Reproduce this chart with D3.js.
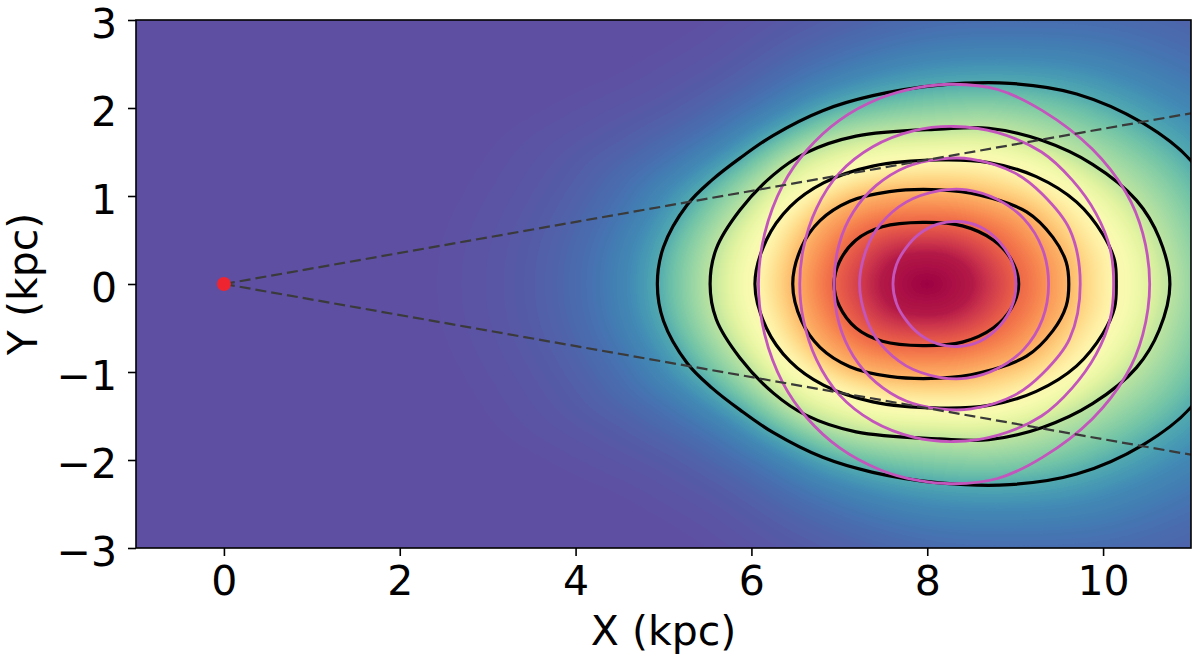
<!DOCTYPE html>
<html>
<head>
<meta charset="utf-8">
<script src="https://cdn.jsdelivr.net/npm/d3@7"></script>
<style>
body { margin: 0; background: #fff; }
svg { display: block; font-family: "DejaVu Sans", sans-serif; }
</style>
</head>
<body>
<svg id="chart" width="1200" height="661"></svg>
<script>
const xTicks = [0, 2, 4, 6, 8, 10];
const yTicks = [-3, -2, -1, 0, 1, 2, 3];

// upper halves of the black contours (kpc), left to right
const blackContours = [
  [[6.94, 0], [7.00, 0.25], [7.19, 0.50], [7.49, 0.65], [7.95, 0.70], [8.40, 0.66], [8.75, 0.50], [8.96, 0.27], [9.04, 0]],
  [[6.47, 0], [6.57, 0.42], [6.78, 0.72], [7.12, 0.94], [7.57, 1.05], [8.14, 1.07], [8.60, 1.01], [9.13, 0.82], [9.43, 0.53], [9.58, 0.25], [9.61, 0]],
  [[6.04, 0], [6.17, 0.50], [6.44, 0.88], [6.82, 1.15], [7.38, 1.34], [8.14, 1.41], [8.70, 1.38], [9.24, 1.22], [9.70, 0.93], [10.00, 0.56], [10.13, 0.27], [10.15, 0]],
  [[5.53, 0], [5.60, 0.40], [5.87, 0.84], [6.25, 1.24], [6.62, 1.49], [7.19, 1.68], [8.14, 1.76], [8.70, 1.77], [9.31, 1.63], [9.88, 1.36], [10.38, 0.95], [10.64, 0.52], [10.76, 0]],
  [[4.93, 0], [5.00, 0.42], [5.27, 0.90], [5.55, 1.18], [5.87, 1.43], [6.25, 1.69], [6.81, 1.97], [7.38, 2.14], [8.14, 2.26], [8.94, 2.28], [9.70, 2.16], [10.45, 1.83], [11.00, 1.40], [11.35, 0.80], [11.48, 0]]
];

// upper halves of the magenta contours
const magentaContours = [
  [[7.61, 0], [7.65, 0.22], [7.75, 0.40], [7.91, 0.57], [8.12, 0.68], [8.35, 0.71], [8.60, 0.65], [8.82, 0.48], [8.96, 0.26], [9.01, 0]],
  [[7.23, 0], [7.31, 0.40], [7.46, 0.67], [7.76, 0.93], [8.14, 1.06], [8.45, 1.07], [8.80, 0.96], [9.10, 0.74], [9.31, 0.40], [9.38, 0]],
  [[6.94, 0], [7.00, 0.46], [7.16, 0.82], [7.42, 1.12], [7.76, 1.33], [8.14, 1.42], [8.50, 1.42], [9.00, 1.26], [9.31, 1.02], [9.62, 0.62], [9.74, 0]],
  [[6.55, 0], [6.59, 0.40], [6.74, 0.86], [7.00, 1.26], [7.38, 1.56], [7.84, 1.74], [8.30, 1.79], [8.80, 1.72], [9.30, 1.50], [9.65, 1.18], [9.92, 0.80], [10.08, 0.40], [10.12, 0]],
  [[6.08, 0], [6.15, 0.57], [6.36, 1.13], [6.63, 1.52], [7.00, 1.86], [7.46, 2.11], [7.88, 2.23], [8.30, 2.27], [8.80, 2.21], [9.31, 1.97], [9.88, 1.53], [10.26, 1.04], [10.45, 0.58], [10.53, 0]]
];

// dashed sight lines from the Sun
const sightLines = [
  [[0, 0], [11, 1.94]],
  [[0, 0], [11, -1.94]]
];
const sun = [0, 0];

// colour map: field level (0 = centre, 1..5 = black contours, beyond = outside) -> Spectral position
const fieldCentre = [8.0, 0];
const levelStops = [0, 0.5, 1, 2, 3, 4, 5, 5.5, 6.2, 7.1, 8.0, 9.4];
const colourStops = [1.0, 0.96, 0.82, 0.68, 0.51, 0.33, 0.16, 0.105, 0.062, 0.03, 0.012, 0];

const svg = d3.select("#chart");

const x = d3.scaleLinear([-1, 11], [136, 1191]);
const y = d3.scaleLinear([-3, 3], [548, 20]);
const plot = { x0: x(-1), x1: x(11), y0: y(3), y1: y(-3) };

svg.append("defs").append("clipPath").attr("id", "plot-clip")
  .append("rect")
  .attr("x", plot.x0).attr("y", plot.y0)
  .attr("width", plot.x1 - plot.x0).attr("height", plot.y1 - plot.y0);

const heatLayer = svg.append("g").attr("clip-path", "url(#plot-clip)");
const lineLayer = svg.append("g").attr("clip-path", "url(#plot-clip)");

const closeShape = half => half.concat(half.slice(1, -1).reverse().map(([a, b]) => [a, -b]));
const contourLine = d3.line()
  .x(d => x(d[0]))
  .y(d => y(d[1]))
  .curve(d3.curveCatmullRomClosed.alpha(0.5));

const blackPaths = lineLayer.selectAll(".black")
  .data(blackContours)
  .enter()
  .append("path")
  .attr("class", "black")
  .attr("d", d => contourLine(closeShape(d)))
  .attr("fill", "none")
  .attr("stroke", "#000")
  .attr("stroke-width", 3.2);

lineLayer.selectAll(".magenta")
  .data(magentaContours)
  .enter()
  .append("path")
  .attr("class", "magenta")
  .attr("d", d => contourLine(closeShape(d)))
  .attr("fill", "none")
  .attr("stroke", "#c455bd")
  .attr("stroke-width", 2.8);

lineLayer.selectAll(".sight")
  .data(sightLines)
  .enter()
  .append("line")
  .attr("x1", d => x(d[0][0])).attr("y1", d => y(d[0][1]))
  .attr("x2", d => x(d[1][0])).attr("y2", d => y(d[1][1]))
  .attr("stroke", "#3a3a3a")
  .attr("stroke-width", 2.2)
  .attr("stroke-dasharray", "11,5");

lineLayer.append("circle")
  .attr("cx", x(sun[0]))
  .attr("cy", y(sun[1]))
  .attr("r", 7)
  .attr("fill", "#ee2530");

// ---- heat map, built from the black contours ----
const cx = x(fieldCentre[0]), cy = y(fieldCentre[1]);
const bins = 1440;

function radiusTable(node) {
  const len = node.getTotalLength();
  const pts = [];
  for (let i = 0; i < 1200; i++) {
    const p = node.getPointAtLength(len * i / 1200);
    pts.push([Math.atan2(p.y - cy, p.x - cx), Math.hypot(p.x - cx, p.y - cy)]);
  }
  pts.sort((a, b) => a[0] - b[0]);
  const first = pts[0], last = pts[pts.length - 1];
  pts.unshift([last[0] - 2 * Math.PI, last[1]]);
  pts.push([first[0] + 2 * Math.PI, first[1]]);
  const f = d3.scaleLinear(pts.map(d => d[0]), pts.map(d => d[1]));
  return d3.range(bins).map(i => f(-Math.PI + 2 * Math.PI * (i + 0.5) / bins));
}

const tables = blackPaths.nodes().map(radiusTable);
const toColour = d3.scaleLinear(levelStops, colourStops).clamp(true);
const lut = d3.range(256).map(i => d3.rgb(d3.interpolateSpectral(1 - i / 255)));

const W = Math.round(plot.x1 - plot.x0), H = Math.round(plot.y1 - plot.y0);
const canvas = document.createElement("canvas");
canvas.width = W; canvas.height = H;
const ctx = canvas.getContext("2d");
const img = ctx.createImageData(W, H);
const n = tables.length;
for (let j = 0; j < H; j++) {
  for (let i = 0; i < W; i++) {
    const dx = plot.x0 + i + 0.5 - cx, dy = plot.y0 + j + 0.5 - cy;
    const r = Math.hypot(dx, dy);
    let b = Math.floor((Math.atan2(dy, dx) + Math.PI) / (2 * Math.PI) * bins);
    if (b >= bins) b = bins - 1;
    let q;
    const R1 = tables[0][b];
    if (r <= R1) {
      q = r / R1;
    } else {
      q = null;
      for (let k = 1; k < n; k++) {
        const a = tables[k - 1][b], c = tables[k][b];
        if (r <= c) { q = k + (r - a) / (c - a); break; }
      }
      if (q === null) {
        const a = tables[n - 2][b], c = tables[n - 1][b];
        q = n + (r - c) / (c - a);
      }
    }
    const s = toColour(q);
    const col = lut[Math.max(0, Math.min(255, Math.round(s * 255)))];
    const o = (j * W + i) * 4;
    img.data[o] = col.r; img.data[o + 1] = col.g; img.data[o + 2] = col.b; img.data[o + 3] = 255;
  }
}
ctx.putImageData(img, 0, 0);
heatLayer.append("image")
  .attr("x", plot.x0).attr("y", plot.y0)
  .attr("width", W).attr("height", H)
  .attr("preserveAspectRatio", "none")
  .attr("href", canvas.toDataURL());

// ---- axes ----
const xAxis = svg.append("g")
  .attr("transform", `translate(0, ${plot.y1})`)
  .call(d3.axisBottom(x).tickValues(xTicks).tickSize(8).tickSizeOuter(0).tickPadding(10).tickFormat(d3.format("d")));
const yAxis = svg.append("g")
  .attr("transform", `translate(${plot.x0}, 0)`)
  .call(d3.axisLeft(y).tickValues(yTicks).tickSize(8).tickSizeOuter(0).tickPadding(11).tickFormat(d3.format("d")));

[xAxis, yAxis].forEach(a => {
  a.select(".domain").remove();
  a.selectAll(".tick line").attr("stroke", "#000").attr("stroke-width", 1.6);
  a.selectAll(".tick text").attr("fill", "#000").style("font-size", "41px").style("font-family", "DejaVu Sans");
});
yAxis.selectAll(".tick text").attr("dy", "0.42em");

svg.append("rect")
  .attr("x", plot.x0).attr("y", plot.y0)
  .attr("width", plot.x1 - plot.x0).attr("height", plot.y1 - plot.y0)
  .attr("fill", "none").attr("stroke", "#000").attr("stroke-width", 1.6);

svg.append("text")
  .attr("x", (plot.x0 + plot.x1) / 2)
  .attr("y", 645)
  .attr("text-anchor", "middle")
  .style("font-size", "41px")
  .text("X (kpc)");

svg.append("text")
  .attr("transform", `translate(37, ${(plot.y0 + plot.y1) / 2}) rotate(-90)`)
  .attr("text-anchor", "middle")
  .style("font-size", "41px")
  .text("Y (kpc)");
</script>
</body>
</html>
